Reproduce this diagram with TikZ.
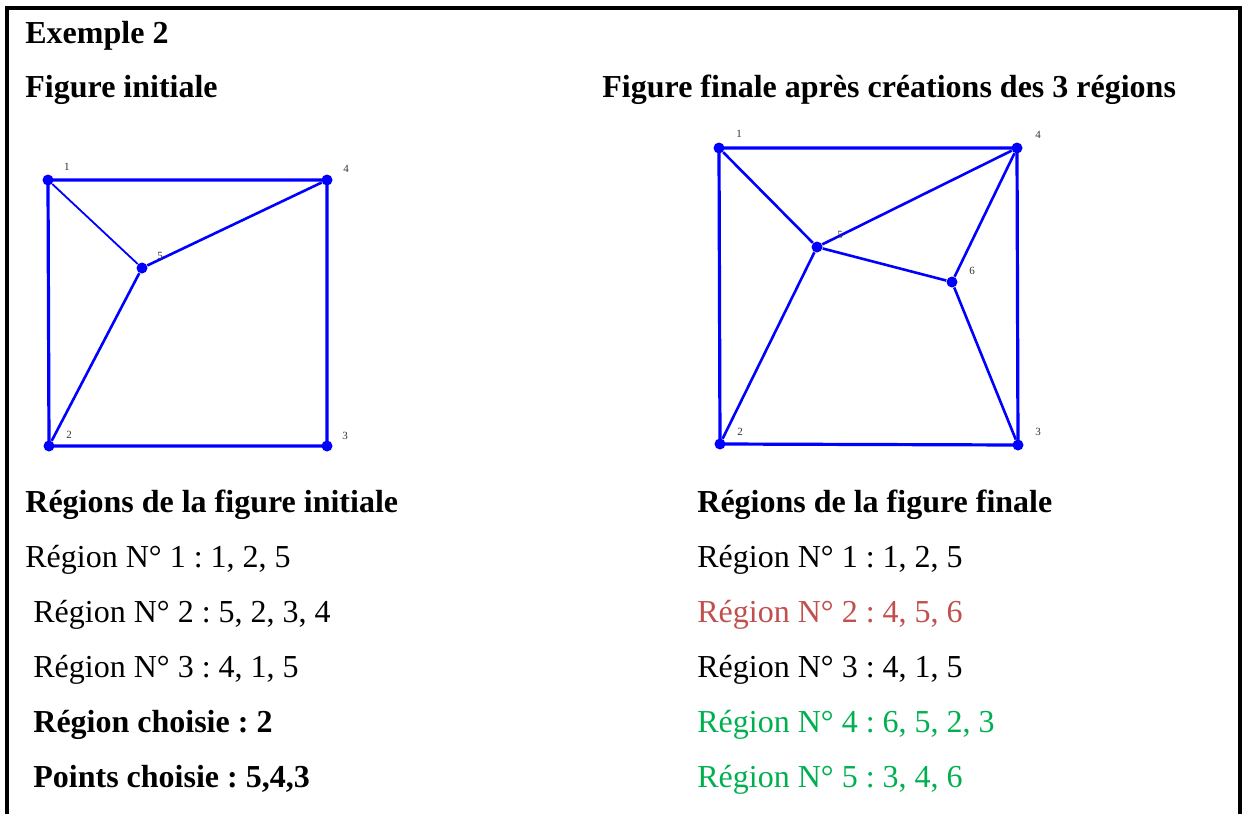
\documentclass[tikz,border=0pt]{standalone}
\usepackage{fontspec}
\setmainfont{Liberation Serif}
\frenchspacing
\definecolor{myblue}{RGB}{0,0,255}
\definecolor{myred}{RGB}{192,80,77}
\definecolor{mygreen}{RGB}{0,176,80}
\begin{document}
\begin{tikzpicture}[x=0.5pt,y=-0.5pt,
  vtx/.style={circle,fill=myblue,inner sep=0pt,minimum size=5.5pt},
  side/.style={myblue,line width=1.6pt},
  inner/.style={myblue,line width=1.3pt},
  thin/.style={myblue,line width=0.9pt},
  vlab/.style={inner sep=0pt,font=\fontsize{5.5}{6}\selectfont,text=black!80},
  txt/.style={anchor=base west,inner sep=0pt,font=\fontsize{16}{19}\selectfont},
  btxt/.style={txt,font=\fontsize{16}{19}\selectfont\bfseries},
  frame/.style={black,line width=2pt}]
\useasboundingbox (0,0) rectangle (1244,814);
% frame
\coordinate (fbl) at (7,814);
\coordinate (ftl) at (7,8);
\coordinate (ftr) at (1240,8);
\coordinate (fbr) at (1240,814);
\draw[frame] (fbl) -- (ftl) -- (ftr) -- (fbr);
% texts left
\node[btxt] (t0) at (25,43) {Exemple 2};
\node[btxt] (t1) at (25,97) {Figure initiale};
\node[btxt] (t2) at (602,97) {Figure finale après créations des 3 régions};
\node[btxt] (t3) at (25,512) {Régions de la figure initiale};
\node[txt] (l1) at (25,567) {Région N° 1 : 1, 2, 5};
\node[txt] (l2) at (33,622) {Région N° 2 : 5, 2, 3, 4};
\node[txt] (l3) at (33,677) {Région N° 3 : 4, 1, 5};
\node[btxt] (l4) at (33,732) {Région choisie : 2};
\node[btxt] (l5) at (33,787) {Points choisie : 5,4,3};
% texts right
\node[btxt] (t4) at (697,512) {Régions de la figure finale};
\node[txt] (r1) at (697,567) {Région N° 1 : 1, 2, 5};
\node[txt,text=myred] (r2) at (697,622) {Région N° 2 : 4, 5, 6};
\node[txt] (r3) at (697,677) {Région N° 3 : 4, 1, 5};
\node[txt,text=mygreen] (r4) at (697,732) {Région N° 4 : 6, 5, 2, 3};
\node[txt,text=mygreen] (r5) at (697,787) {Région N° 5 : 3, 4, 6};
% left figure
\node[vtx] (a1) at (48,180) {};
\node[vtx] (a4) at (327,180) {};
\node[vtx] (a5) at (142,268) {};
\node[vtx] (a2) at (49,446) {};
\node[vtx] (a3) at (327,446) {};
\draw[side] (a1.center) -- (a4.center) -- (a3.center) -- (a2.center) -- cycle;
\draw[thin] (a1) -- (a5);
\draw[inner] (a5) -- (a4);
\draw[inner] (a5) -- (a2);
\node[vlab] (la1) at (67,167) {1};
\node[vlab] (la4) at (346,169) {4};
\node[vlab] (la5) at (160,256) {5};
\node[vlab] (la2) at (69,435) {2};
\node[vlab] (la3) at (345,436) {3};
% right figure
\node[vtx] (b1) at (719,148) {};
\node[vtx] (b4) at (1017,148) {};
\node[vtx] (b5) at (817,247) {};
\node[vtx] (b6) at (952,282) {};
\node[vtx] (b2) at (720,444) {};
\node[vtx] (b3) at (1018,445) {};
\draw[side] (b1.center) -- (b4.center) -- (b3.center) -- (b2.center) -- cycle;
\draw[inner] (b1) -- (b5);
\draw[inner] (b5) -- (b4);
\draw[inner] (b5) -- (b6);
\draw[inner] (b6) -- (b4);
\draw[inner] (b6) -- (b3);
\draw[inner] (b5) -- (b2);
\node[vlab] (lb1) at (739,134) {1};
\node[vlab] (lb4) at (1038,135) {4};
\node[vlab] (lb5) at (840,235) {5};
\node[vlab] (lb6) at (972,271) {6};
\node[vlab] (lb2) at (740,432) {2};
\node[vlab] (lb3) at (1038,432) {3};
\end{tikzpicture}
\end{document}
